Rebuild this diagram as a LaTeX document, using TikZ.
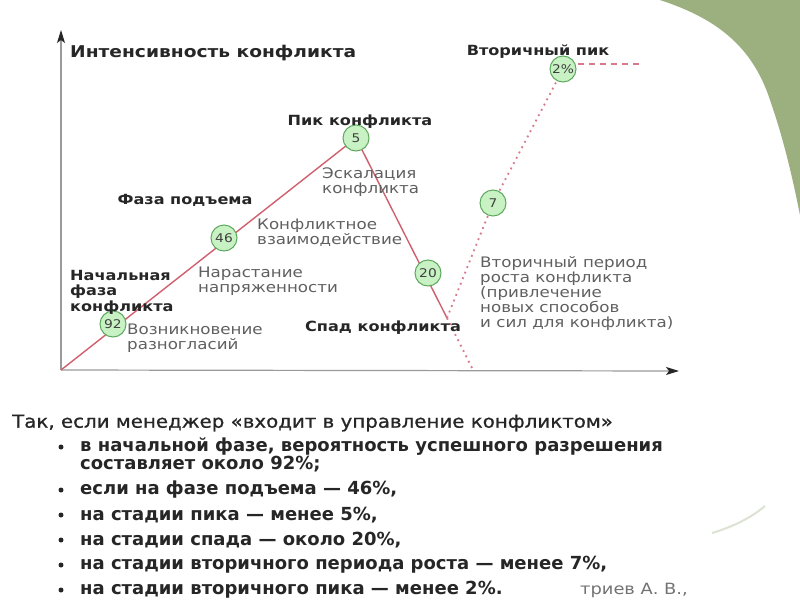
\documentclass[tikz,border=0pt]{standalone}
\usepackage{fontspec}
\usepackage{graphicx}
\setmainfont{DejaVu Sans}
\newfontfamily\lblbold[FakeStretch=1.15]{DejaVu Sans Bold}
\newfontfamily\lblreg[FakeStretch=1.15]{DejaVu Sans}
\newfontfamily\txtbold{DejaVu Sans Bold}
\newfontfamily\txtmed[FakeStretch=1.1,FakeBold=0.8]{DejaVu Sans}
\usetikzlibrary{arrows.meta}
\definecolor{leaf}{HTML}{9BAF7F}
\definecolor{redl}{HTML}{D0606E}
\definecolor{dotl}{HTML}{D87888}
\definecolor{circf}{HTML}{C8F2C4}
\definecolor{circd}{HTML}{5FA85F}
\definecolor{axisc}{HTML}{9A9A9A}
\definecolor{lblg}{HTML}{606060}
\begin{document}
\begin{tikzpicture}[x=1pt,y=-1pt,
  axis/.style={draw=axisc,line width=1.2pt,-{Stealth[length=13pt,width=8pt,inset=3pt,color=black!85]}},
  redline/.style={draw=redl,line width=1.4pt},
  dotline/.style={draw=dotl,line width=1.8pt,dash pattern=on 1.8pt off 4.2pt},
  dashline/.style={draw=dotl,line width=1.5pt,dash pattern=on 6pt off 5pt},
  pt/.style={circle,draw=circd,fill=circf,line width=1pt,minimum size=26pt,inner sep=0pt,font=\lblreg\fontsize{12}{12}\selectfont,text=black!75},
  bl/.style={font=\lblbold\fontsize{14}{15.5}\selectfont,text=black!85,align=left,inner sep=0pt},
  rl/.style={font=\lblreg\fontsize{14.5}{15}\selectfont,text=lblg,align=left,inner sep=0pt},
  bt/.style={font=\txtbold\fontsize{18}{18}\selectfont,text=black!85,inner sep=0pt,anchor=west},
  dotb/.style={circle,fill=black!85,minimum size=5pt,inner sep=0pt}
]
\useasboundingbox (0,0) rectangle (800,600);
\fill[white] (0,0) rectangle (800,600);
% green corner
\fill[leaf] (660,0) .. controls (715,18) and (752,45) .. (770,100)
  .. controls (784,140) and (793,180) .. (800,215) -- (800,0) -- cycle;
\draw[leaf!35,line width=2pt] (712,533) .. controls (735,526) and (752,517) .. (765,506);

% axes
\coordinate (O) at (61,370);
\coordinate (Ytop) at (61,30);
\coordinate (Xend) at (679,371);
\draw[axis] (O) -- (Ytop);
\draw[axis] (O) -- (Xend);

% points
\coordinate (B) at (447,318);
\coordinate (X) at (473,370);
\coordinate (E) at (640,64);
\coordinate (n92) at (113,324);
\coordinate (n46) at (224,238);
\coordinate (n5) at (356,138);
\coordinate (n20) at (428,273);
\coordinate (n7) at (493,203);
\coordinate (n2) at (563,69);

% lines
\draw[redline] (O) -- (n5);
\draw[redline] (n5) -- (B);
\draw[dotline] (B) -- (X);
\draw[dotline] (B) -- (n7) -- (n2);
\coordinate (D) at (578,64);
\draw[dashline] (D) -- (E);

% circles
\node[pt] (c92) at (n92) {92};
\node[pt] (c46) at (n46) {46};
\node[pt] (c5) at (n5) {5};
\node[pt] (c20) at (n20) {20};
\node[pt] (c7) at (n7) {7};
\node[pt] (c2) at (n2) {2\%};

% labels
\node[bl,anchor=west,font=\lblbold\fontsize{16.2}{16}\selectfont] (title) at (70,53) {Интенсивность конфликта};
\node[bl] (peak) at (360,122) {Пик конфликта};
\node[rl,anchor=west] (esc) at (322,182) {Эскалация\\конфликта};
\node[bl] (rise) at (185,200) {Фаза подъема};
\node[rl,anchor=west] (inter) at (257,233) {Конфликтное\\взаимодействие};
\node[rl,anchor=west] (tens) at (198,281) {Нарастание\\напряженности};
\node[bl,anchor=west] (init) at (70,292) {Начальная\\фаза\\конфликта};
\node[rl,anchor=west] (disag) at (127,338) {Возникновение\\разногласий};
\node[bl] (decl) at (383,328) {Спад конфликта};
\node[rl,anchor=west] (sec) at (480,293) {Вторичный период\\роста конфликта\\(привлечение\\новых способов\\и сил для конфликта)};
\node[bl] (speak) at (538,52) {Вторичный пик};

% bottom text
\node[bt,font=\txtmed\fontsize{18}{18}\selectfont] (t0) at (12,423) {Так, если менеджер «входит в управление конфликтом»};
\node[dotb] (b1) at (61,447) {};
\node[bt] (t1) at (80,447) {в начальной фазе, вероятность успешного разрешения};
\node[bt] (t1b) at (80,464) {составляет около 92\%;};
\node[dotb] (b2) at (61,490) {};
\node[bt] (t2) at (80,490) {если на фазе подъема — 46\%,};
\node[dotb] (b3) at (61,515) {};
\node[bt] (t3) at (80,515) {на стадии пика — менее 5\%,};
\node[dotb] (b4) at (61,540) {};
\node[bt] (t4) at (80,540) {на стадии спада — около 20\%,};
\node[dotb] (b5) at (61,565) {};
\node[bt] (t5) at (80,565) {на стадии вторичного периода роста — менее 7\%,};
\node[dotb] (b6) at (61,590) {};
\node[bt] (t6) at (80,590) {на стадии вторичного пика — менее 2\%.};
\node[font=\lblreg\fontsize{15.5}{15.5}\selectfont,text=black!55,anchor=west,inner sep=0pt] (auth) at (580,590) {триев А. В.,};
\end{tikzpicture}
\end{document}
